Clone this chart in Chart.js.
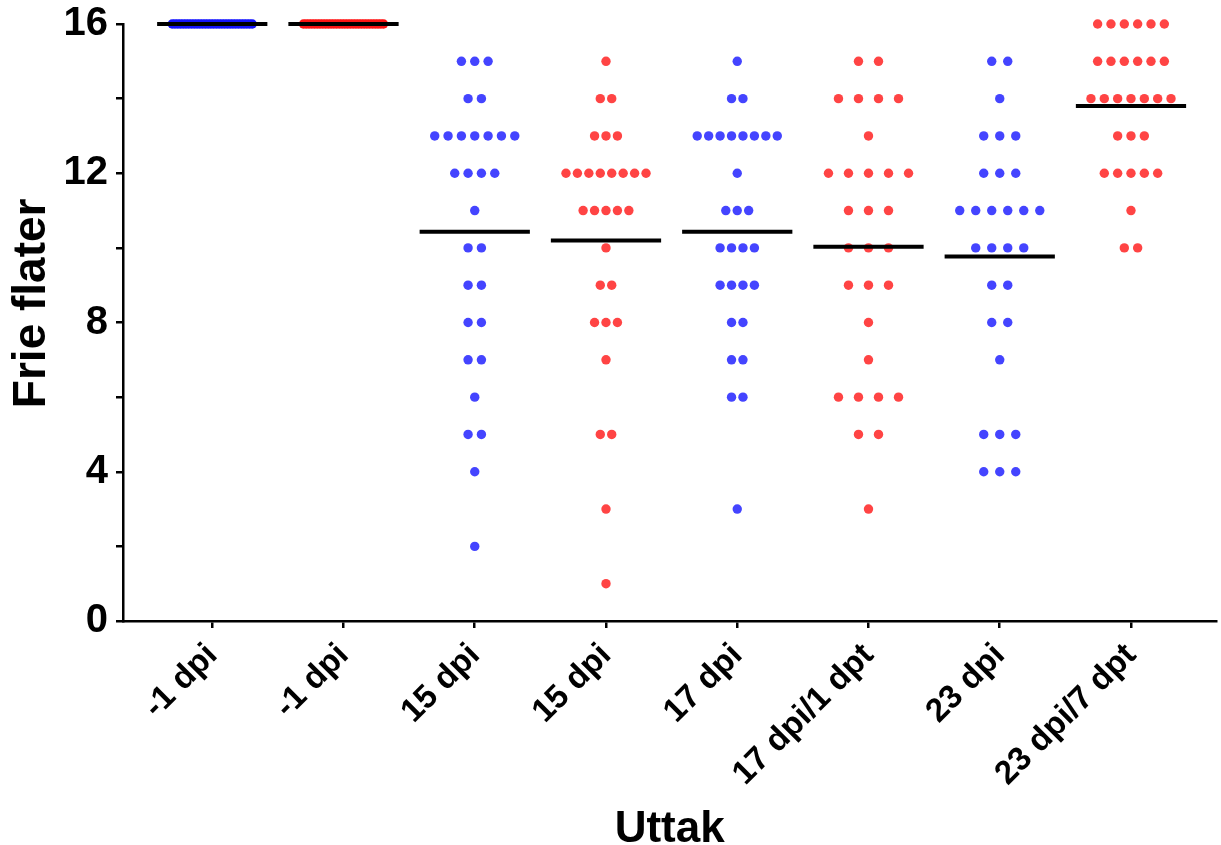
<!DOCTYPE html>
<html>
<head>
    <style>
        body { margin: 0; background: #fff; }
        #chart-container { width: 1221px; height: 845px; }
    </style>
    <script src="https://cdn.jsdelivr.net/npm/chart.js"></script>
</head>
<body>
    <div id="chart-container">
        <canvas id="dotChart" width="1221" height="845"></canvas>
    </div>

    <script>
        // Uttak (x categories)
        const labels = ['-1 dpi', '-1 dpi', '15 dpi', '15 dpi', '17 dpi', '17 dpi/1 dpt', '23 dpi', '23 dpi/7 dpt'];

        // Frie flater per individ, one array per uttak
        const g1 = [16,16,16,16,16,16,16,16,16,16,16,16,16,16,16,16,16,16,16,16,16,16,16,16,16,16,16,16,16,16];
        const g2 = [16,16,16,16,16,16,16,16,16,16,16,16,16,16,16,16,16,16,16,16,16,16,16,16,16,16,16,16,16,16];
        const g3 = [15,15,15,14,14,13,13,13,13,13,13,13,12,12,12,12,11,10,10,9,9,8,8,7,7,6,5,5,4,2];
        const g4 = [15,14,14,13,13,13,12,12,12,12,12,12,12,12,11,11,11,11,11,10,9,9,8,8,8,7,5,5,3,1];
        const g5 = [15,14,14,13,13,13,13,13,13,13,13,12,11,11,11,10,10,10,10,9,9,9,9,8,8,7,7,6,6,3];
        const g6 = [15,15,14,14,14,14,13,12,12,12,12,12,11,11,11,10,10,10,9,9,9,8,7,6,6,6,6,5,5,3];
        const g7 = [15,15,14,13,13,13,12,12,12,11,11,11,11,11,11,10,10,10,10,9,9,8,8,7,5,5,5,4,4,4];
        const g8 = [16,16,16,16,16,16,15,15,15,15,15,15,14,14,14,14,14,14,14,13,13,13,12,12,12,12,12,11,10,10];
        const groups = [g1, g2, g3, g4, g5, g6, g7, g8];

        // y ticks
        const yTicks = [0, 4, 8, 12, 16];

        // styles
        const dotColors = ['#1414ff', '#ff1414', '#4444ff', '#ff4444', '#4444ff', '#ff4444', '#4444ff', '#ff4444'];
        const swarmWidth = 0.61;   // widest row, in category units
        const lineHalf = 0.42;
        const FONT = "'Liberation Sans', Arial, sans-serif";

        const datasets = [];

        // mean lines first -> drawn on top
        groups.forEach((vals, i) => {
            const mean = vals.reduce((a, b) => a + b, 0) / vals.length;
            datasets.push({
                type: 'line',
                data: [{ x: i - lineHalf, y: mean }, { x: i + lineHalf, y: mean }],
                borderColor: '#000',
                borderWidth: 4,
                pointRadius: 0,
                showLine: true,
                order: 0,
                clip: false
            });
        });

        // scatter dots, spread symmetrically per value row
        groups.forEach((vals, i) => {
            const counts = {};
            vals.forEach(v => { counts[v] = (counts[v] || 0) + 1; });
            const maxN = Math.max(...Object.values(counts));
            const step = maxN > 1 ? swarmWidth / (maxN - 1) : 0;
            const pts = [];
            Object.keys(counts).forEach(k => {
                const n = counts[k];
                for (let j = 0; j < n; j++) {
                    pts.push({ x: i + (j - (n - 1) / 2) * step, y: Number(k) });
                }
            });
            datasets.push({
                type: 'scatter',
                data: pts,
                backgroundColor: dotColors[i],
                borderWidth: 0,
                pointRadius: 4.7,
                pointHoverRadius: 4.7,
                order: 1,
                clip: false
            });
        });

        const ctx = document.getElementById('dotChart').getContext('2d');
        new Chart(ctx, {
            type: 'scatter',
            data: { datasets },
            options: {
                responsive: false,
                animation: false,
                events: [],
                layout: { padding: { top: 24, right: 0, bottom: 0, left: 0 } },
                plugins: { legend: { display: false }, tooltip: { enabled: false } },
                scales: {
                    x: {
                        type: 'linear',
                        min: -0.68,
                        max: 7.65,
                        afterBuildTicks: s => { s.ticks = labels.map((_, i) => ({ value: i })); },
                        afterFit: s => { s.height = 224; s.paddingRight = 0; s.paddingLeft = 0; },
                        ticks: {
                            autoSkip: false,
                            minRotation: 45,
                            maxRotation: 45,
                            padding: 8,
                            color: '#000',
                            font: { family: FONT, size: 33, weight: 'bold' },
                            callback: v => labels[v]
                        },
                        grid: { drawOnChartArea: false, drawTicks: true, tickLength: 7, color: '#000', lineWidth: 2.5 },
                        border: { color: '#000', width: 2.5 },
                        title: {
                            display: true,
                            text: 'Uttak',
                            color: '#000',
                            font: { family: FONT, size: 44, weight: 'bold' },
                            padding: { top: 0, bottom: -11 }
                        }
                    },
                    y: {
                        min: 0,
                        max: 16,
                        afterBuildTicks: s => {
                            const t = [];
                            for (let v = 0; v <= 16; v += 2) t.push({ value: v });
                            s.ticks = t;
                        },
                        afterFit: s => { s.width = 123; s.paddingTop = 0; s.paddingBottom = 0; },
                        ticks: {
                            padding: 8,
                            color: '#000',
                            font: { family: FONT, size: 40, weight: 'bold' },
                            callback: v => (yTicks.includes(v) ? String(v) : '')
                        },
                        grid: { drawOnChartArea: false, drawTicks: true, tickLength: 7, color: '#000', lineWidth: 2.5 },
                        border: { color: '#000', width: 2.5 },
                        title: {
                            display: true,
                            text: '   Frie flater',
                            color: '#000',
                            font: { family: FONT, size: 46, weight: 'bold' },
                            padding: { top: 5, bottom: 0 }
                        }
                    }
                }
            }
        });
    </script>
</body>
</html>
